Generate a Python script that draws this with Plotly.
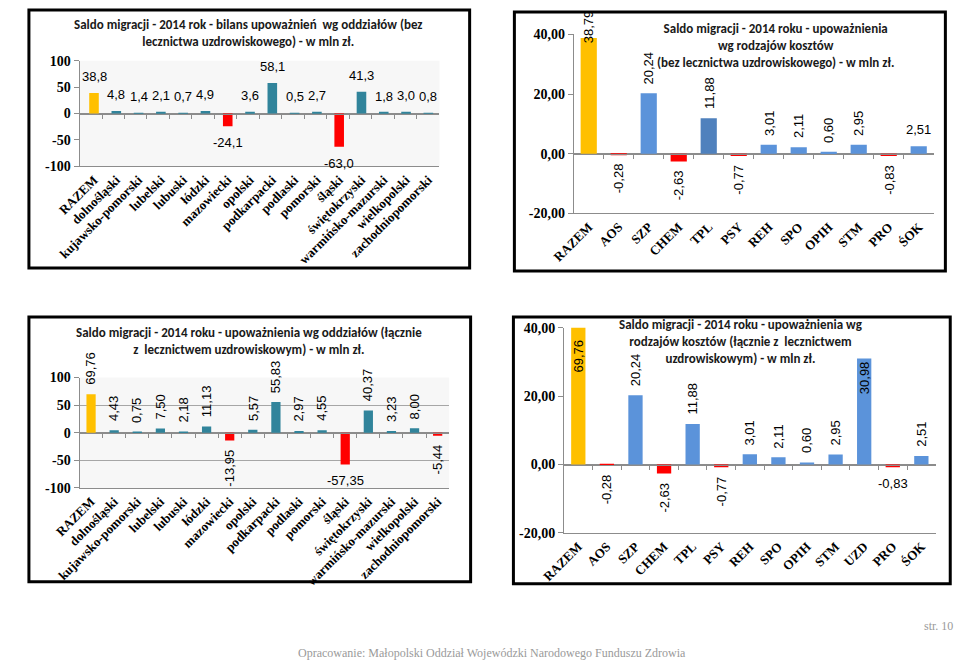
import plotly.graph_objects as go

W, H = 959, 670

# ---------------- data ----------------
regions = ["RAZEM", "dolnośląski", "kujawsko-pomorski", "lubelski", "lubuski", "łódzki",
           "mazowiecki", "opolski", "podkarpacki", "podlaski", "pomorski", "śląski",
           "świętokrzyski", "warmińsko-mazurski", "wielkopolski", "zachodniopomorski"]
regions_no_spa = [38.8, 4.8, 1.4, 2.1, 0.7, 4.9, -24.1, 3.6, 58.1, 0.5, 2.7, -63.0, 41.3, 1.8, 3.0, 0.8]
regions_with_spa = [69.76, 4.43, 0.75, 7.50, 2.18, 11.13, -13.95, 5.57, 55.83, 2.97, 4.55, -57.35,
                    40.37, 3.23, 8.00, -5.44]

costs_no_spa = ["RAZEM", "AOS", "SZP", "CHEM", "TPL", "PSY", "REH", "SPO", "OPIH", "STM", "PRO", "ŚOK"]
costs_no_spa_values = [38.79, -0.28, 20.24, -2.63, 11.88, -0.77, 3.01, 2.11, 0.60, 2.95, -0.83, 2.51]

costs_with_spa = ["RAZEM", "AOS", "SZP", "CHEM", "TPL", "PSY", "REH", "SPO", "OPIH", "STM", "UZD", "PRO", "ŚOK"]
costs_with_spa_values = [69.76, -0.28, 20.24, -2.63, 11.88, -0.77, 3.01, 2.11, 0.60, 2.95, 30.98, -0.83, 2.51]

ticks_reg = [100, 50, 0, -50, -100]
ticktext_reg = ["100", "50", "0", "-50", "-100"]
ticks_cost = [40, 20, 0, -20]
ticktext_cost = ["40,00", "20,00", "0,00", "-20,00"]

title1 = "Saldo migracji - 2014 rok - bilans upoważnień  wg oddziałów (bez<br>lecznictwa uzdrowiskowego) - w mln zł."
title2 = "Saldo migracji - 2014 roku - upoważnienia<br>wg rodzajów kosztów<br>(bez lecznictwa uzdrowiskowego) - w mln zł."
title3 = "Saldo migracji - 2014 roku - upoważnienia wg oddziałów (łącznie<br>z  lecznictwem uzdrowiskowym) - w mln zł."
title4 = "Saldo migracji - 2014 roku - upoważnienia wg<br>rodzajów kosztów (łącznie z  lecznictwem<br>uzdrowiskowym) - w mln zł."
footer_page = "str. 10"
footer_src = "Opracowanie: Małopolski Oddział Wojewódzki Narodowego Funduszu Zdrowia"

# ---------------- style ----------------
YELLOW = "#FFC000"
RED = "#FF0000"
TEAL = "#31849B"
BLUE = "#5B93DA"
BLUE_DARK = "#4F81BD"
AXIS = "#8C8C8C"
SERIF = "Liberation Serif, Times New Roman, serif"
SANS = "Liberation Sans, Arial, sans-serif"
TITLE_FONT = "Carlito, Liberation Sans Narrow, Liberation Sans, Arial, sans-serif"


def px(x):
    return x / W


def py(y):
    return 1 - y / H


def aid(n):
    return "" if n == 1 else str(n)


def colors(vals, base, special=None):
    out = []
    for i, v in enumerate(vals):
        if i == 0:
            out.append(YELLOW)
        elif v < 0:
            out.append(RED)
        elif special and i in special:
            out.append(special[i])
        else:
            out.append(base)
    return out


# panel geometry (pixels): x-left, x-right, y-top, y-bottom, y-range
panels = [
    dict(x0=55, x1=425, y0=55, y1=163, rng=[-100, 100]),
    dict(x0=563, x1=933, y0=28, y1=211, rng=[-20, 40]),
    dict(x0=55, x1=435, y0=379, y1=492, rng=[-100, 100]),
    dict(x0=553, x1=935, y0=328, y1=538, rng=[-20, 40]),
]

fig = go.Figure()

series = [
    (regions, regions_no_spa, colors(regions_no_spa, TEAL), 0.43),
    (costs_no_spa, costs_no_spa_values, colors(costs_no_spa_values, BLUE, {4: BLUE_DARK}), 0.54),
    (regions, regions_with_spa, colors(regions_with_spa, TEAL), 0.4),
    (costs_with_spa, costs_with_spa_values, colors(costs_with_spa_values, BLUE), 0.5),
]

for k, (cats, vals, cols, bw) in enumerate(series):
    n = k + 1
    fig.add_trace(go.Bar(x=cats, y=vals, marker=dict(color=cols, line=dict(width=0)),
                         width=bw, xaxis=f"x{aid(n)}", yaxis=f"y{aid(n)}", showlegend=False,
                         hoverinfo="x+y"))
    # dummy trace for the zero-line tick axis
    fig.add_trace(go.Scatter(x=[None], y=[None], xaxis=f"x{n+4}", yaxis=f"y{aid(n)}",
                             showlegend=False, hoverinfo="skip"))

layout = dict(width=W, height=H, margin=dict(l=0, r=0, t=0, b=0), autosize=False,
              paper_bgcolor="white", plot_bgcolor="rgba(0,0,0,0)",
              separators=", ", font=dict(family=SANS, color="black"))

shapes = []
annotations = []

for k, p in enumerate(panels):
    n = k + 1
    cats, vals, _, _ = series[k]
    xd = [px(p["x0"]), px(p["x1"])]
    yd = [py(p["y1"]), py(p["y0"])]
    lo, hi = p["rng"]
    zero_pix = p["y0"] + (hi - 0) / (hi - lo) * (p["y1"] - p["y0"])
    reg = k in (0, 2)
    layout[f"xaxis{aid(n)}"] = dict(domain=xd, anchor=f"y{aid(n)}", type="category",
                                    categoryarray=cats, categoryorder="array",
                                    showline=True, linecolor=AXIS, linewidth=1, ticks="",
                                    tickangle=-45, showgrid=False, zeroline=False,
                                    tickfont=dict(family=SERIF, size=13, color="black", weight="bold"),
                                    fixedrange=True)
    layout[f"yaxis{aid(n)}"] = dict(domain=yd, anchor=f"x{aid(n)}", range=[lo, hi],
                                    tickvals=ticks_reg if reg else ticks_cost,
                                    ticktext=ticktext_reg if reg else ticktext_cost,
                                    showline=True, linecolor=AXIS, linewidth=1,
                                    ticks="outside", ticklen=5, tickcolor=AXIS,
                                    showgrid=(k == 2), gridcolor="#A6A6A6", gridwidth=1,
                                    zeroline=True, zerolinecolor=AXIS, zerolinewidth=1,
                                    tickfont=dict(family=SERIF, size=14, color="black", weight="bold"),
                                    fixedrange=True)
    # axis at the zero line with tick marks between categories
    layout[f"xaxis{n+4}"] = dict(domain=xd, overlaying=f"x{aid(n)}", anchor="free",
                                 position=py(zero_pix), range=[-0.5, len(cats) - 0.5],
                                 tickvals=[i + 0.5 for i in range(len(cats) - 1)],
                                 ticks="outside", ticklen=4, tickcolor=AXIS,
                                 showticklabels=False, showline=True, linecolor=AXIS,
                                 showgrid=False, zeroline=False, fixedrange=True)
    if reg:
        shapes.append(dict(type="rect", xref=f"x{aid(n)} domain", yref=f"y{aid(n)} domain",
                           x0=0, x1=1, y0=0, y1=1, fillcolor="#F7F7F7",
                           line=dict(width=0), layer="below"))


def value_labels(n, cats, vals, dec, rotated, flat=(), inside=None, ymax=None):
    inside = inside or {}
    for i, (c, v) in enumerate(zip(cats, vals)):
        txt = f"{v:.{dec}f}".replace(".", ",")
        rot = rotated and i not in flat
        y = v
        if i in inside:
            anchor, shift = inside[i]
            if ymax is not None:
                y = min(v, ymax)
        elif v >= 0:
            anchor, shift = "bottom", 7
        else:
            anchor, shift = "top", -7
        annotations.append(dict(x=c, y=y, xref=f"x{aid(n)}", yref=f"y{aid(n)}", text=txt,
                                showarrow=False, textangle=-90 if rot else 0,
                                xanchor="center", yanchor=anchor, yshift=shift,
                                font=dict(family=SANS, size=13, color="black")))


value_labels(1, regions, regions_no_spa, 1, False)
value_labels(2, costs_no_spa, costs_no_spa_values, 2, True, flat={11}, inside={0: ("bottom", -7)})
value_labels(3, regions, regions_with_spa, 2, True, flat={11})
value_labels(4, costs_with_spa, costs_with_spa_values, 2, True, flat={11},
             inside={0: ("top", -10), 10: ("top", -1)}, ymax=40)

# titles
for txt, xc, yc in [(title1, 229, 26.5), (title2, 770, 39.5), (title3, 229, 341.5), (title4, 735, 342)]:
    annotations.append(dict(x=px(xc), y=py(yc), xref="paper", yref="paper", text=txt,
                            showarrow=False, xanchor="center", yanchor="middle", align="center",
                            font=dict(family=TITLE_FONT, size=13, color="#1a1a1a", weight="bold")))

# footer
annotations.append(dict(x=px(955), y=py(633), xref="paper", yref="paper", text=footer_page,
                        showarrow=False, xanchor="right", yanchor="middle",
                        font=dict(family=SERIF, size=12, color="#9a9a9a")))
annotations.append(dict(x=px(479), y=py(661), xref="paper", yref="paper", text=footer_src,
                        showarrow=False, xanchor="center", yanchor="middle",
                        font=dict(family=SERIF, size=12, color="#9a9a9a")))

# panel borders
for x0, y0, x1, y1 in [(3, 3, 456, 267), (502, 5, 945, 270), (3, 317, 457, 588), (501, 317, 950, 590)]:
    shapes.append(dict(type="rect", xref="paper", yref="paper", x0=px(x0), x1=px(x1),
                       y0=py(y1), y1=py(y0), line=dict(color="black", width=3),
                       fillcolor="rgba(0,0,0,0)", layer="above"))

layout["shapes"] = shapes
layout["annotations"] = annotations
fig.update_layout(**layout)
fig.write_html("out.html", config={"displayModeBar": False})
